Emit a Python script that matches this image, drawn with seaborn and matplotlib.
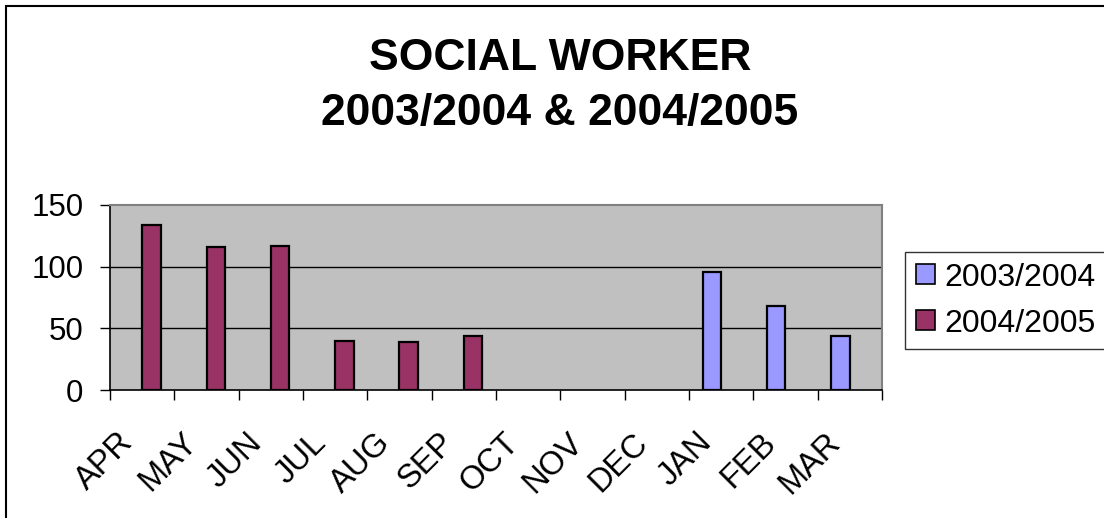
import numpy as np
import pandas as pd
import matplotlib
matplotlib.use("Agg")
import matplotlib.pyplot as plt
import matplotlib.transforms as mtransforms
from matplotlib.patches import Rectangle
import seaborn as sns

months = ["APR", "MAY", "JUN", "JUL", "AUG", "SEP", "OCT", "NOV", "DEC", "JAN", "FEB", "MAR"]
series_names = ["2003/2004", "2004/2005"]
vals_0304 = [None, None, None, None, None, None, None, None, None, 96, 68, 44]
vals_0405 = [134, 116, 117, 40, 39, 44, None, None, None, None, None, None]
yticks = [0, 50, 100, 150]
colors = ["#9999FF", "#993366"]
title = "SOCIAL WORKER\n2003/2004 & 2004/2005"

rows = []
for m, a, b in zip(months, vals_0304, vals_0405):
    rows.append({"month": m, "season": series_names[0], "value": a})
    rows.append({"month": m, "season": series_names[1], "value": b})
df = pd.DataFrame(rows).dropna()

sns.set_theme(style="white")
plt.rcParams["font.family"] = ["Liberation Sans", "DejaVu Sans"]
plt.rcParams["text.color"] = "black"
plt.rcParams["xtick.color"] = "black"
plt.rcParams["ytick.color"] = "black"
plt.rcParams["xtick.labelcolor"] = "black"
plt.rcParams["ytick.labelcolor"] = "black"

fig = plt.figure(figsize=(11.04, 5.18), dpi=100)
ax = fig.add_axes([110/1104, 1-390/518, (882-110)/1104, (390-205)/518])

sns.barplot(data=df, x="month", y="value", hue="season", order=months,
            hue_order=series_names, palette=colors, width=0.58, dodge=True,
            edgecolor="black", linewidth=1.6, errorbar=None, ax=ax,
            saturation=1, legend=True)

ax.set_facecolor("#C0C0C0")
ax.set_xlim(-0.5, len(months) - 0.5)
ax.set_ylim(0, 150)
ax.set_yticks(yticks)
ax.set_yticklabels([str(t) for t in yticks])
ax.set_xlabel("")
ax.set_ylabel("")
for y in yticks[1:-1]:
    ax.axhline(y, color="black", lw=1.0, zorder=0.5)

for s in ["top", "right"]:
    ax.spines[s].set_color("#808080")
    ax.spines[s].set_linewidth(1.5)
for s in ["left", "bottom"]:
    ax.spines[s].set_color("black")
    ax.spines[s].set_linewidth(1.2)

ax.tick_params(axis="y", which="major", direction="out", length=7.2, width=1,
               color="black", labelsize=22.5, pad=12, left=True)
ax.set_xticks(np.arange(len(months)))
ax.set_xticks(np.arange(-0.5, len(months)), minor=True)
ax.tick_params(axis="x", which="major", length=0, labelsize=23.5, pad=0)
ax.tick_params(axis="x", which="minor", direction="out", length=7.2, width=1,
               color="black", bottom=True)
offset = mtransforms.ScaledTranslation(-14/100, -48/100, fig.dpi_scale_trans)
for lab in ax.get_xticklabels():
    lab.set_rotation(45)
    lab.set_ha("right")
    lab.set_va("center")
    lab.set_rotation_mode("anchor")
    lab.set_transform(lab.get_transform() + offset)

handles, labels = ax.get_legend_handles_labels()
if ax.legend_:
    ax.legend_.remove()
leg = fig.legend(handles, labels, loc="upper left",
                 bbox_to_anchor=(905/1104, 1-252/518), fontsize=23,
                 frameon=True, fancybox=False, edgecolor="black",
                 handlelength=0.6, handleheight=0.6, handletextpad=0.3,
                 labelspacing=0.5, borderpad=0.33, borderaxespad=0)
leg.get_frame().set_linewidth(1.0)
for h in leg.legend_handles:
    h.set_edgecolor("black")
    h.set_linewidth(1.2)

fig.text(560/1104, 1-86/518, title, ha="center", va="center",
         fontsize=32, fontweight="bold", linespacing=1.45, color="black")

fig.patches.append(Rectangle((6/1104, -0.1), 1.2, 1.1 - 6/518,
                             transform=fig.transFigure, fill=False,
                             edgecolor="black", linewidth=1.5))

fig.savefig("out.png", dpi=100)
